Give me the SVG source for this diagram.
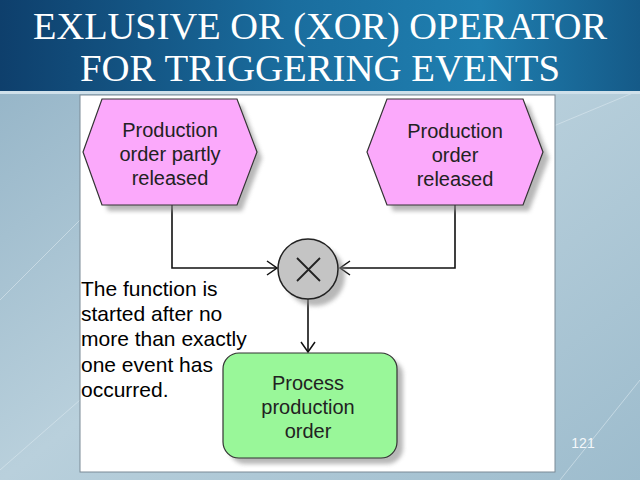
<svg xmlns="http://www.w3.org/2000/svg" width="640" height="480" viewBox="0 0 640 480">
<defs>
<linearGradient id="bg" x1="0" y1="0" x2="1" y2="1">
<stop offset="0" stop-color="#8fb0c4"/>
<stop offset="0.5" stop-color="#b9d0dc"/>
<stop offset="1" stop-color="#9dbccd"/>
</linearGradient>
<linearGradient id="band" x1="0" y1="0" x2="1" y2="0">
<stop offset="0" stop-color="#0e3f6c"/>
<stop offset="0.45" stop-color="#1a6d9e"/>
<stop offset="0.75" stop-color="#1f7fb0"/>
<stop offset="1" stop-color="#155a88"/>
</linearGradient>
<filter id="sh" x="-20%" y="-20%" width="140%" height="140%">
<feGaussianBlur stdDeviation="2"/>
</filter>
<marker id="arr" viewBox="0 0 12 16" refX="11" refY="8" markerWidth="12" markerHeight="16" markerUnits="userSpaceOnUse" orient="auto">
<path d="M1,1 L11,8 L1,15" fill="none" stroke="#111" stroke-width="1.5"/>
</marker>
<style>
.hex{fill:#fba9fb;stroke:#333;stroke-width:1.2}
.fn{fill:#99f799;stroke:#333;stroke-width:1.2}
.shadow{fill:#888;opacity:0.6;filter:url(#sh)}
.lbl{font-family:"Liberation Sans",Arial,sans-serif;font-size:20px;fill:#222;text-anchor:middle}
.note{font-family:"Liberation Sans",Arial,sans-serif;font-size:21px;fill:#000}
.title{font-family:"Liberation Serif","Times New Roman",serif;font-size:37px;fill:#fff;text-anchor:middle}
.con{fill:none;stroke:#111;stroke-width:1.6}
</style>
</defs>
<rect x="0" y="0" width="640" height="480" fill="url(#bg)"/>
<path d="M0,300 L120,180 M560,480 L640,380 M0,470 L80,400 M520,140 L640,90" stroke="#dbe8ef" stroke-width="1" opacity="0.6"/>
<rect x="0" y="0" width="640" height="91" fill="url(#band)"/>
<rect x="0" y="91" width="640" height="3" fill="#cfe0ea"/>
<text class="title" x="320" y="39" textLength="574" lengthAdjust="spacingAndGlyphs">EXLUSIVE OR (XOR) OPERATOR</text>
<text class="title" x="320" y="81" textLength="480" lengthAdjust="spacingAndGlyphs">FOR TRIGGERING EVENTS</text>
<rect x="80" y="95" width="475" height="377" fill="#fff" stroke="#7a8a96" stroke-width="1"/>
<g id="connectors">
<path class="con" d="M172,205 V268 H277" marker-end="url(#arr)"/>
<path class="con" d="M455,205 V268 H340" marker-end="url(#arr)"/>
<path class="con" d="M308,298 V352" marker-end="url(#arr)"/>
</g>
<g id="event1">
<polygon class="shadow" points="108,105 242,105 262,158 242,211 108,211 89,158"/>
<polygon class="hex" points="102,99 237,99 257,152 237,205 102,205 83,152"/>
<text class="lbl" x="170" y="137">Production</text>
<text class="lbl" x="170" y="161">order partly</text>
<text class="lbl" x="170" y="185">released</text>
</g>
<g id="event2">
<polygon class="shadow" points="393,105 529,105 549,158 529,211 393,211 373,158"/>
<polygon class="hex" points="387,99 523,99 543,152 523,205 387,205 367,152"/>
<text class="lbl" x="455" y="138">Production</text>
<text class="lbl" x="455" y="162">order</text>
<text class="lbl" x="455" y="186">released</text>
</g>
<g id="xor">
<circle class="shadow" cx="315" cy="276" r="30"/>
<circle cx="308" cy="269" r="30" fill="#c4c4c4" stroke="#222" stroke-width="1.5"/>
<path d="M297,258 L320,281 M320,258 L297,281" stroke="#222" stroke-width="1.8"/>
</g>
<g id="function">
<rect class="shadow" x="229" y="359" width="174" height="105" rx="16"/>
<rect class="fn" x="223" y="353" width="174" height="105" rx="16"/>
<text class="lbl" x="308" y="390">Process</text>
<text class="lbl" x="308" y="414">production</text>
<text class="lbl" x="308" y="438">order</text>
</g>
<g id="note">
<text class="note" x="81" y="296">The function is</text>
<text class="note" x="81" y="321">started after no</text>
<text class="note" x="81" y="346">more than exactly</text>
<text class="note" x="81" y="372">one event has</text>
<text class="note" x="81" y="397">occurred.</text>
</g>
<text x="583" y="448" font-family="'Liberation Sans',Arial,sans-serif" font-size="14" fill="#f4f8fb" text-anchor="middle">121</text>
</svg>
